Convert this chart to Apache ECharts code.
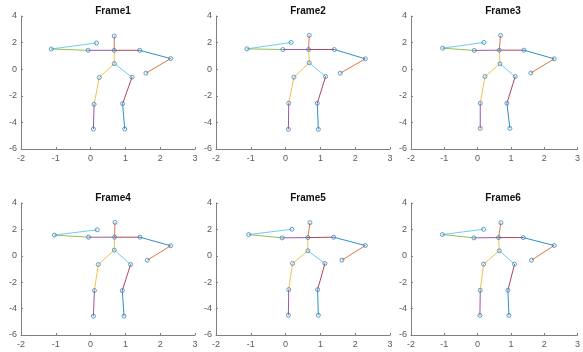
<!DOCTYPE html>
<html>
<head>
<meta charset="utf-8">
<script src="https://cdn.jsdelivr.net/npm/echarts@6/dist/echarts.min.js"></script>
<style>html,body{margin:0;padding:0;background:#fff;}#c{width:583px;height:352px;}</style>
</head>
<body>
<div id="c"></div>
<script>
// joint order: head, neck, lShoulder, lHand, lTip, rShoulder, rElbow, rHand, spine, lHip, lKnee, lFoot, rHip, rKnee, rFoot
const frameTitles = ['Frame1','Frame2','Frame3','Frame4','Frame5','Frame6'];
const frame1X = [0.68,0.68,-0.07,-1.13,0.17,1.41,2.30,1.59,0.68,0.25,0.10,0.08,1.19,0.92,0.98];
const frame1Y = [2.49,1.42,1.42,1.52,1.97,1.42,0.80,-0.30,0.42,-0.62,-2.64,-4.50,-0.60,-2.59,-4.50];
const frame2X = [0.68,0.66,-0.08,-1.11,0.16,1.40,2.29,1.57,0.68,0.24,0.09,0.08,1.15,0.91,0.94];
const frame2Y = [2.54,1.48,1.48,1.53,2.01,1.48,0.78,-0.30,0.48,-0.60,-2.56,-4.52,-0.55,-2.56,-4.52];
const frame3X = [0.69,0.65,-0.10,-1.05,0.19,1.39,2.30,1.60,0.67,0.22,0.08,0.08,1.13,0.88,0.97];
const frame3Y = [2.54,1.43,1.41,1.58,2.01,1.43,0.78,-0.28,0.40,-0.55,-2.56,-4.45,-0.55,-2.56,-4.45];
const frame4X = [0.70,0.69,-0.06,-1.04,0.19,1.42,2.30,1.63,0.68,0.22,0.11,0.08,1.15,0.91,0.96];
const frame4Y = [2.53,1.41,1.41,1.57,1.97,1.41,0.76,-0.33,0.43,-0.66,-2.63,-4.57,-0.66,-2.63,-4.57];
const frame5X = [0.70,0.64,-0.10,-1.06,0.18,1.38,2.29,1.62,0.64,0.20,0.09,0.08,1.13,0.92,0.94];
const frame5Y = [2.51,1.38,1.36,1.61,2.01,1.41,0.78,-0.33,0.38,-0.58,-2.56,-4.50,-0.58,-2.56,-4.50];
const frame6X = [0.70,0.63,-0.11,-1.06,0.18,1.37,2.30,1.62,0.65,0.18,0.08,0.07,1.11,0.91,0.94];
const frame6Y = [2.51,1.38,1.36,1.61,2.01,1.38,0.78,-0.33,0.38,-0.63,-2.61,-4.52,-0.63,-2.61,-4.52];
const segFrom = [0,1,8,9,10,8,12,13,1,2,3,1,5,6];
const segTo   = [1,8,9,10,11,12,13,14,2,3,4,5,6,7];
const xTicks = [-2,-1,0,1,2,3];
const yTicks = [-6,-4,-2,0,2,4];

const segColors = ['#D95319','#EDB120','#EDB120','#EDB120','#7E2F8E','#4DBEEE','#A2142F','#0072BD','#7E2F8E','#77AC30','#4DBEEE','#A2142F','#0072BD','#D95319'];
const framesX = [frame1X,frame2X,frame3X,frame4X,frame5X,frame6X];
const framesY = [frame1Y,frame2Y,frame3Y,frame4Y,frame5Y,frame6Y];
const colLeft = [21,216,411];
const rowTop = [16,203];
const gW = 174, gH = 133;
const font = '"Liberation Sans", Arial, sans-serif';

const grids = [], xAxes = [], yAxes = [], titles = [], series = [];
for (let i = 0; i < 6; i++) {
  const c = i % 3, r = Math.floor(i / 3);
  grids.push({left: colLeft[c], top: rowTop[r], width: gW, height: gH - (r ? 1 : 0)});
  const axCommon = {
    gridIndex: i, type: 'value',
    axisLine: {show: true, onZero: false, lineStyle: {color: '#808080', width: 1}},
    axisTick: {show: true, inside: true, length: 2, lineStyle: {color: '#808080'}},
    splitLine: {show: false},
    axisLabel: {fontSize: 9, color: '#5a5a5a', fontFamily: font}
  };
  xAxes.push(Object.assign({}, axCommon, {min: xTicks[0], max: xTicks[xTicks.length-1], interval: 1,
    axisLabel: Object.assign({}, axCommon.axisLabel, {margin: 5, showMinLabel: true, showMaxLabel: true})}));
  yAxes.push(Object.assign({}, axCommon, {min: yTicks[0], max: yTicks[yTicks.length-1], interval: 2,
    axisLabel: Object.assign({}, axCommon.axisLabel, {margin: 4})}));
  titles.push({text: frameTitles[i], left: colLeft[c] + gW / 2, top: rowTop[r] - 15, textAlign: 'center',
    textStyle: {fontSize: 10, fontWeight: 'bold', color: '#111', fontFamily: font}});
  const X = framesX[i], Y = framesY[i];
  for (let s = 0; s < segFrom.length; s++) {
    series.push({type: 'line', xAxisIndex: i, yAxisIndex: i, showSymbol: false, silent: true,
      data: [[X[segFrom[s]], Y[segFrom[s]]], [X[segTo[s]], Y[segTo[s]]]],
      lineStyle: {color: segColors[s], width: 1, opacity: 0.8}, animation: false, z: 2});
  }
  series.push({type: 'scatter', xAxisIndex: i, yAxisIndex: i, symbol: 'circle', symbolSize: 4,
    data: X.map((x, k) => [x, Y[k]]),
    itemStyle: {color: 'rgba(255,255,255,0)', borderColor: '#3a86b8', borderWidth: 1}, animation: false, z: 3});
}

const chart = echarts.init(document.getElementById('c'), null, {renderer: 'canvas'});
chart.setOption({backgroundColor: '#fff', animation: false, title: titles, grid: grids, xAxis: xAxes, yAxis: yAxes, series: series});
</script>
</body>
</html>
